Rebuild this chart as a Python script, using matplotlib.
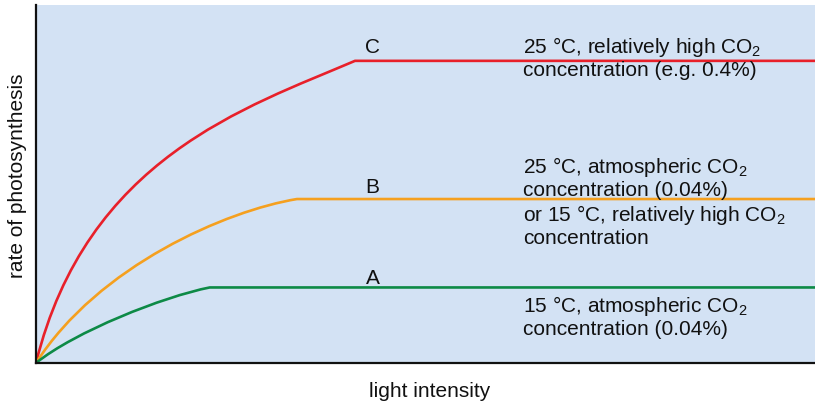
import matplotlib
matplotlib.use('Agg')
import matplotlib.pyplot as plt
from matplotlib.path import Path
from matplotlib.patches import PathPatch

plt.rcParams['font.family'] = ['Liberation Sans', 'DejaVu Sans']
plt.rcParams['mathtext.fontset'] = 'custom'
plt.rcParams['mathtext.rm'] = 'Liberation Sans'
plt.rcParams['mathtext.default'] = 'regular'

# light intensity / rate, both on a 0-100 scale.
# each rise is a smooth bend: start, two bend handles, start of plateau, end
c_x = [0, 6.5, 26.95, 40.95, 100]
c_y = [0, 57.2, 71.4, 84.4, 84.4]

b_x = [0, 8.0, 24.5, 33.5, 100]
b_y = [0, 27.2, 42.6, 45.8, 45.8]

a_x = [0, 5.0, 16.3, 22.3, 100]
a_y = [0, 8.75, 18.52, 21.1, 21.1]

curve_names = ['C', 'B', 'A']
curve_colors = ['#e8202a', '#f5a01f', '#0d8a46']
curve_notes = [
    ['25 °C, relatively high CO$_2$', 'concentration (e.g. 0.4%)'],
    ['25 °C, atmospheric CO$_2$', 'concentration (0.04%)',
     'or 15 °C, relatively high CO$_2$', 'concentration'],
    ['15 °C, atmospheric CO$_2$', 'concentration (0.04%)'],
]

fig = plt.figure(figsize=(8.15, 4.01), dpi=100)
ax = fig.add_axes([36/815, 38/401, 779/815, 358/401])
ax.set_facecolor('#d3e2f4')

codes = [Path.MOVETO, Path.CURVE4, Path.CURVE4, Path.CURVE4, Path.LINETO]
for xs, ys, col in zip([c_x, b_x, a_x], [c_y, b_y, a_y], curve_colors):
    p = Path(list(zip(xs, ys)), codes)
    ax.add_patch(PathPatch(p, fill=False, edgecolor=col, lw=1.9,
                           capstyle='butt', joinstyle='round'))

ax.set_xlim(0, 100)
ax.set_ylim(0, 100)
ax.set_xticks([])
ax.set_yticks([])
for s in ['top', 'right']:
    ax.spines[s].set_visible(False)
for s in ['left', 'bottom']:
    ax.spines[s].set_linewidth(1.6)
    ax.spines[s].set_color('#111111')
ax.spines['left'].set_zorder(3)

fs = 15
letter_y = [86.5, 47.5, 22.1]
note_y = [[86.7, 80.2], [53.2, 46.6, 39.7, 33.2], [14.3, 7.8]]
for name, ly, notes, ys in zip(curve_names, letter_y, curve_notes, note_y):
    ax.text(43.2, ly, name, ha='center', va='baseline', fontsize=fs, color='#111111')
    for line, y in zip(notes, ys):
        ax.text(62.5, y, line, ha='left', va='baseline', fontsize=fs, color='#111111')

fig.text(18/815, 1 - 176/401, 'rate of photosynthesis', rotation=90,
         ha='center', va='center', fontsize=fs, color='#111111')
fig.text(429.7/815, 1 - 397/401, 'light intensity',
         ha='center', va='baseline', fontsize=fs, color='#111111')

fig.savefig('out.png', dpi=100)
